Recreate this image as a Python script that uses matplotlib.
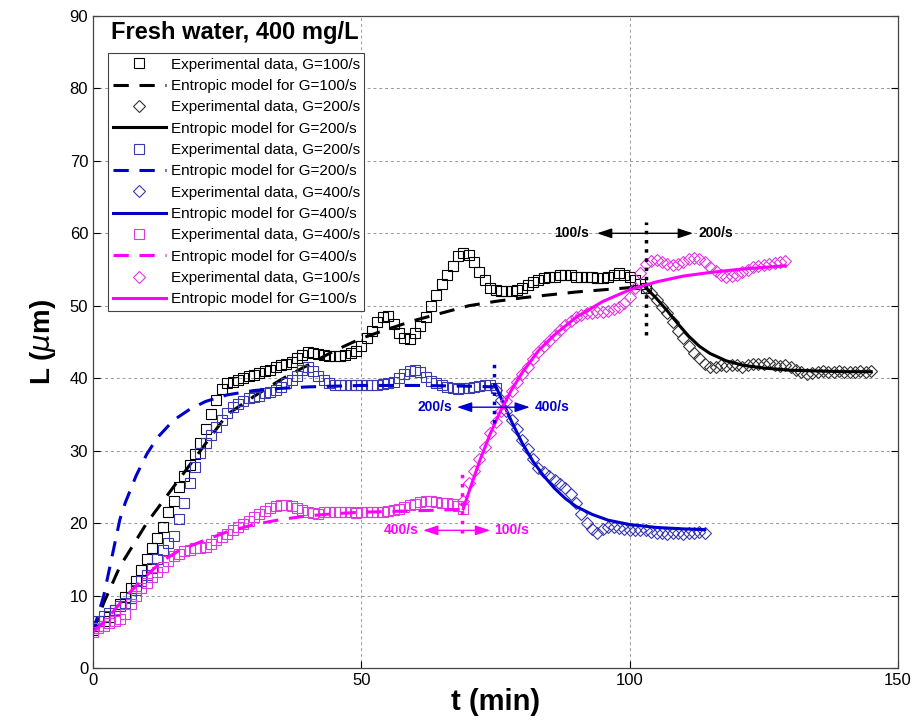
import numpy as np
import matplotlib.pyplot as plt

plt.rcParams['font.family'] = ['Liberation Sans', 'DejaVu Sans']

t_blk_sq = np.arange(0, 104, 1)
L_blk_sq = [5.3, 5.8, 6.5, 7, 8, 8.8, 9.8, 11, 12, 13.5, 15, 16.5, 18, 19.5, 21.5, 23, 25, 26.5, 28, 29.5,
            31, 33, 35, 37, 38.5, 39.3, 39.5, 39.8, 40, 40.3, 40.5, 40.7, 41, 41.2, 41.5, 41.8, 42, 42.3, 42.8, 43.2,
            43.6, 43.5, 43.4, 43.2, 43, 43, 43.1, 43.2, 43.5, 43.8, 44.5, 45.5, 46.5, 47.8, 48.5, 48.6, 47.5, 46.2, 45.5, 45.4,
            46.2, 47.2, 48.5, 50, 51.5, 53, 54.3, 55.5, 56.8, 57.3, 57, 56, 54.7, 53.5, 52.5, 52.2, 52, 52, 52, 52.2,
            52.5, 52.8, 53.3, 53.5, 53.8, 54, 54, 54.2, 54.2, 54.2, 54, 54, 54, 54, 53.8, 53.8, 54, 54.2, 54.5, 54.3,
            54, 53.5, 53, 52.5]

t_blk_di = np.arange(103, 146, 1)
L_blk_di = [52.5, 51.8, 50.8, 49.8, 49, 47.8, 46.5, 45.5, 44.5, 43.5, 42.8, 42, 41.6, 41.5, 41.8, 41.7, 41.8, 41.8,
            41.6, 41.8, 42, 41.9, 42, 42.1, 41.8, 41.7, 41.8, 41.6, 41.2, 40.8, 40.6, 40.7, 40.9, 41, 40.8, 40.9,
            41, 40.9, 40.8, 40.9, 41, 40.9, 41]

t_blu_sq = np.arange(0, 76, 1)
L_blu_sq = [5.5, 6.5, 7.2, 7.6, 8, 8.5, 9, 9.6, 10.8, 12, 12.8, 13.8, 15, 16.3, 17.3, 18.2, 20.5, 22.8, 25.5, 27.8,
            29.7, 31, 32.2, 33.3, 34.2, 35.2, 36, 36.5, 36.9, 37.2, 37.4, 37.6, 37.9, 38.1, 38.4, 38.8, 39.3, 39.8, 40.3, 41.2,
            41.5, 41, 40.3, 39.7, 39.3, 39.1, 39, 39.1, 39.1, 39, 39.1, 39, 39, 39.1, 39.2, 39.3, 39.5, 40, 40.6, 41,
            41.2, 40.8, 40.2, 39.6, 39.3, 39, 38.8, 38.6, 38.5, 38.6, 38.7, 38.8, 38.9, 39, 39.1, 38.6]

t_blu_di = np.arange(75, 115, 1)
L_blu_di = [38.4, 37, 35.5, 34.2, 33, 31.5, 30.2, 28.8, 27.6, 27, 26.5, 26, 25.4, 24.8, 24, 22.8, 21.3, 20, 19.2, 18.6,
            19.2, 19.5, 19.5, 19.3, 19.2, 19, 19, 19.1, 19, 18.8, 18.6, 18.7, 18.5, 18.6, 18.6, 18.5, 18.6, 18.7, 18.8, 18.6]

t_mag_sq = np.arange(0, 70, 1)
L_mag_sq = [5, 5.5, 5.8, 6.2, 6.5, 6.8, 7.5, 8.8, 10, 11, 11.8, 12.5, 13.2, 14, 14.8, 15.4, 15.8, 16.1, 16.3, 16.5,
            16.6, 16.7, 17.1, 17.6, 18.1, 18.5, 19, 19.4, 19.9, 20.3, 20.8, 21.3, 21.7, 22.1, 22.4, 22.5, 22.5, 22.3, 22.1, 21.8,
            21.5, 21.4, 21.3, 21.5, 21.6, 21.5, 21.5, 21.6, 21.5, 21.4, 21.5, 21.6, 21.5, 21.5, 21.6, 21.7, 21.8, 21.9, 22.2, 22.5,
            22.7, 22.9, 23, 23, 22.9, 22.8, 22.8, 22.6, 22.3, 22]

t_mag_di = np.arange(69, 130, 1)
L_mag_di = [23, 25.5, 27.2, 28.8, 30.5, 32.4, 34, 35.5, 36.8, 38.2, 39.5, 40.6, 41.6, 42.7, 43.6, 44.4, 45.2, 45.9, 46.6, 47.3,
            47.9, 48.4, 48.7, 49, 49, 49.1, 49.2, 49.3, 49.5, 49.8, 50.4, 51.2, 52.4, 54.5, 55.8, 56.2, 56.3, 56, 55.8, 55.6,
            55.8, 56.1, 56.4, 56.6, 56.5, 56, 55.4, 54.8, 54.3, 54, 54.1, 54.3, 54.6, 55, 55.3, 55.5, 55.6, 55.7, 55.9, 56.1, 56.2]

# ---- entropic model curves ----
t_m100a = [0, 2, 5, 10, 15, 20, 25, 30, 35, 40, 45, 50, 55, 60, 65, 70, 75, 80, 85, 90, 95, 100, 103]
L_m100a = [5, 9, 14, 20, 25, 30, 35, 37.5, 39.8, 41.8, 43.8, 45.5, 46.8, 48, 49, 50, 50.6, 51.1, 51.5, 51.9, 52.2, 52.5, 52.7]

t_m200b = [103, 105, 107, 109, 111, 113, 115, 118, 121, 125, 130, 135, 140, 145]
L_m200b = [52.5, 51, 49.3, 47.5, 45.8, 44.4, 43.4, 42.4, 41.8, 41.4, 41.1, 41.0, 40.9, 40.9]

t_m200a = [0, 1, 2, 3, 4, 5, 6, 8, 10, 12, 15, 18, 21, 25, 30, 35, 40, 50, 60, 70, 75]
L_m200a = [5, 7.5, 10, 13.5, 17, 20.5, 22.8, 26.5, 29.5, 31.8, 34.2, 35.7, 36.8, 37.7, 38.3, 38.6, 38.8, 39, 39, 38.9, 38.8]

t_m400b = [75, 76, 78, 80, 82, 84, 86, 88, 90, 93, 96, 100, 105, 110, 114]
L_m400b = [39, 37.3, 34, 31, 28.5, 26.5, 24.8, 23.4, 22.3, 21.2, 20.4, 19.8, 19.4, 19.2, 19.1]

t_m400a = [0, 2, 4, 6, 8, 10, 13, 16, 20, 25, 30, 35, 40, 45, 50, 55, 60, 65, 69]
L_m400a = [5, 6.3, 8, 9.8, 11.3, 12.8, 14.8, 16.2, 17.4, 18.8, 19.8, 20.5, 21, 21.3, 21.5, 21.6, 21.7, 21.8, 21.9]

t_m100b = [69, 70, 72, 74, 76, 78, 80, 83, 86, 90, 95, 100, 105, 110, 115, 120, 125, 129]
L_m100b = [22, 24.2, 28.5, 32.3, 35.6, 38.4, 40.8, 43.8, 46, 48.4, 50.6, 52.2, 53.3, 54.1, 54.6, 55, 55.3, 55.5]

blue = '#0000CC'
blue_mk = '#3A3AB0'
mag = '#FF00FF'
mag_mk = '#E038E0'
dash = (0, (5, 3.5))
ms = 7.5

fig = plt.figure(figsize=(9.14, 7.26), dpi=100)
ax = fig.add_axes([0.1018, 0.0799, 0.8807, 0.8981])

ax.plot(t_blk_sq, L_blk_sq, 's', mfc='none', mec='k', ms=ms, mew=0.8, label='Experimental data, G=100/s')
ax.plot(t_m100a, L_m100a, color='k', ls=dash, lw=2.2, label='Entropic model for G=100/s')
ax.plot(t_blk_di, L_blk_di, 'D', mfc='none', mec='#333333', ms=ms * 0.85, mew=0.8, label='Experimental data, G=200/s')
ax.plot(t_m200b, L_m200b, color='k', lw=2.2, label='Entropic model for G=200/s')
ax.plot(t_blu_sq, L_blu_sq, 's', mfc='none', mec=blue_mk, ms=ms, mew=0.8, label='Experimental data, G=200/s')
ax.plot(t_m200a, L_m200a, color=blue, ls=dash, lw=2.2, label='Entropic model for G=200/s')
ax.plot(t_blu_di, L_blu_di, 'D', mfc='none', mec=blue_mk, ms=ms * 0.85, mew=0.8, label='Experimental data, G=400/s')
ax.plot(t_m400b, L_m400b, color=blue, lw=2.2, label='Entropic model for G=400/s')
ax.plot(t_mag_sq, L_mag_sq, 's', mfc='none', mec=mag_mk, ms=ms, mew=0.8, label='Experimental data, G=400/s')
ax.plot(t_m400a, L_m400a, color=mag, ls=dash, lw=2.2, label='Entropic model for G=400/s')
ax.plot(t_mag_di, L_mag_di, 'D', mfc='none', mec=mag_mk, ms=ms * 0.85, mew=0.8, label='Experimental data, G=100/s')
ax.plot(t_m100b, L_m100b, color=mag, lw=2.2, label='Entropic model for G=100/s')

# shear-rate switch markers
ax.plot([103, 103], [46, 61.5], color='k', ls=':', lw=2.5)
ax.plot([74.7, 74.7], [33.8, 42.5], color=blue, ls=':', lw=2.5)
ax.plot([68.8, 68.8], [18.6, 27.3], color=mag, ls=':', lw=2.5)

aprops = dict(arrowstyle='<|-|>,head_length=0.9,head_width=0.3', lw=1, shrinkA=0, shrinkB=0)
tkw = dict(va='center', fontsize=10, fontweight='bold')
ax.annotate('', xy=(93.9, 60), xytext=(111.8, 60), arrowprops=dict(aprops, color='k'))
ax.text(92.5, 60, '100/s', ha='right', **tkw)
ax.text(112.8, 60, '200/s', ha='left', **tkw)
ax.annotate('', xy=(67.8, 36), xytext=(81.4, 36), arrowprops=dict(aprops, color=blue))
ax.text(67.0, 36, '200/s', ha='right', color=blue, **tkw)
ax.text(82.4, 36, '400/s', ha='left', color=blue, **tkw)
ax.annotate('', xy=(61.5, 19), xytext=(74, 19), arrowprops=dict(aprops, color=mag))
ax.text(60.7, 19, '400/s', ha='right', color=mag, **tkw)
ax.text(74.8, 19, '100/s', ha='left', color=mag, **tkw)

ax.set_xlim(0, 150)
ax.set_ylim(0, 90)
ax.set_xticks([0, 50, 100, 150])
ax.set_yticks(np.arange(0, 91, 10))
ax.tick_params(direction='in', labelsize=12, length=5, top=False, right=True)
ax.grid(True, ls=(0, (3, 3)), color='#999999', lw=0.7)
for s in ax.spines.values():
    s.set_color('#444444')
    s.set_linewidth(0.9)

ax.set_xlabel('t (min)', fontsize=21, fontweight='bold', labelpad=0)
ax.set_ylabel('L ($\\mu$m)', fontsize=20, fontweight='bold', labelpad=8)

leg = ax.legend(loc='upper left', bbox_to_anchor=(0.0186, 0.943), borderaxespad=0,
                fontsize=11, labelspacing=0.48, handlelength=3.5, handletextpad=0.3,
                fancybox=False, framealpha=1, edgecolor='#444444', borderpad=0.3)
leg.get_frame().set_linewidth(0.8)
ax.text(0.022, 0.975, 'Fresh water, 400 mg/L', transform=ax.transAxes, fontsize=17,
        fontweight='bold', va='center', ha='left')

fig.savefig('out.png', dpi=100)
